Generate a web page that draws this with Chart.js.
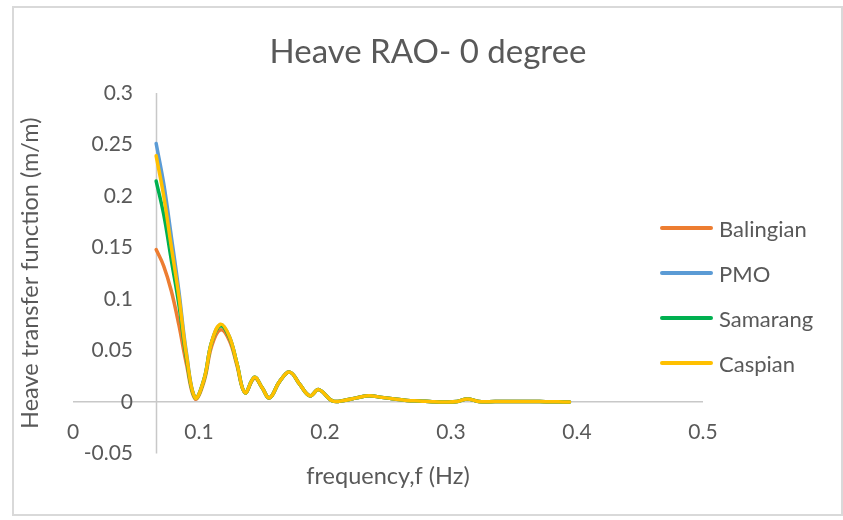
<!DOCTYPE html>
<html>
<head>
<meta charset="utf-8">
<script src="https://cdn.jsdelivr.net/npm/chart.js@4.4.1/dist/chart.umd.min.js"></script>
<style>
    html, body { margin: 0; padding: 0; background: #fff; }
    #wrap { position: relative; width: 843px; height: 520px; }
    #frame {
        position: absolute; left: 12px; top: 6px; width: 827px; height: 506px;
        border: 2px solid #d9d9d9; pointer-events: none;
    }
    #legend {
        position: absolute; left: 660px; top: 205.5px;
        font-family: Lato, "Noto Sans", sans-serif; font-size: 22px; color: #595959;
    }
    .item { height: 45px; display: flex; align-items: center; }
    .swatch { width: 53px; height: 3.5px; border-radius: 2px; margin-right: 6px; }
</style>
</head>
<body>
<div id="wrap">
    <canvas id="chart" width="843" height="520"></canvas>
    <div id="legend"></div>
    <div id="frame"></div>
</div>
<script>
// Heave RAO at 0 degree heading
const frequency = [0.066, 0.072, 0.078, 0.084, 0.090, 0.097, 0.104, 0.110, 0.117, 0.124,
    0.130, 0.1365, 0.144, 0.150, 0.156, 0.164, 0.172, 0.180, 0.188, 0.195,
    0.206, 0.215, 0.225, 0.235, 0.245, 0.255, 0.265, 0.275, 0.285, 0.295,
    0.305, 0.313, 0.322, 0.335, 0.345, 0.355, 0.365, 0.375, 0.385, 0.394];

const balingian = [0.148, 0.132, 0.108, 0.075, 0.037, 0.003, 0.020, 0.054, 0.070, 0.060,
    0.036, 0.009, 0.023, 0.014, 0.004, 0.020, 0.029, 0.017, 0.006, 0.012,
    0.001, 0.0015, 0.004, 0.006, 0.0045, 0.003, 0.0015, 0.001, 0.0003, 0.0,
    0.0005, 0.003, 0.0005, 0.0005, 0.0005, 0.0005, 0.0005, 0.0003, 0.0002, 0.0];

const pmo = [0.251, 0.212, 0.161, 0.108, 0.048, 0.004, 0.022, 0.058, 0.075, 0.064,
    0.038, 0.009, 0.024, 0.014, 0.004, 0.020, 0.029, 0.017, 0.006, 0.012,
    0.001, 0.0015, 0.004, 0.006, 0.0045, 0.003, 0.0015, 0.001, 0.0003, 0.0,
    0.0005, 0.003, 0.0005, 0.0005, 0.0005, 0.0005, 0.0005, 0.0003, 0.0002, 0.0];

const samarang = [0.2145, 0.182, 0.138, 0.095, 0.043, 0.004, 0.022, 0.058, 0.074, 0.063,
    0.038, 0.009, 0.024, 0.014, 0.004, 0.020, 0.029, 0.017, 0.006, 0.012,
    0.001, 0.0015, 0.004, 0.006, 0.0045, 0.003, 0.0015, 0.001, 0.0003, 0.0,
    0.0005, 0.003, 0.0005, 0.0005, 0.0005, 0.0005, 0.0005, 0.0003, 0.0002, 0.0];

const caspian = [0.239, 0.200, 0.151, 0.103, 0.046, 0.004, 0.022, 0.058, 0.0755, 0.064,
    0.038, 0.009, 0.024, 0.014, 0.004, 0.020, 0.029, 0.017, 0.006, 0.012,
    0.001, 0.0015, 0.004, 0.006, 0.0045, 0.003, 0.0015, 0.001, 0.0003, 0.0,
    0.0005, 0.003, 0.0005, 0.0005, 0.0005, 0.0005, 0.0005, 0.0003, 0.0002, 0.0];

const seriesNames = ['Balingian', 'PMO', 'Samarang', 'Caspian'];
const seriesValues = [balingian, pmo, samarang, caspian];
const seriesColors = ['#ED7D31', '#5B9BD5', '#00B050', '#FFC000'];

const xTickValues = [0, 0.1, 0.2, 0.3, 0.4, 0.5];
const xTickLabels = ['0', '0.1', '0.2', '0.3', '0.4', '0.5'];
const yTickValues = [-0.05, 0, 0.05, 0.1, 0.15, 0.2, 0.25, 0.3];
const yTickLabels = ['-0.05', '0', '0.05', '0.1', '0.15', '0.2', '0.25', '0.3'];

const FONT = 'Lato, "Noto Sans", sans-serif';
const TEXT = '#595959';
const AXIS = '#c8c8c8';
const TICK_SIZE = 21;

// y labels are mirrored into the plot (Excel puts them well left of the axis line),
// so work out the padding that puts their right edge 60px into the plot area
const measure = document.createElement('canvas').getContext('2d');
measure.font = TICK_SIZE + 'px ' + FONT;
const widestY = Math.max(...yTickLabels.map(t => measure.measureText(t).width));
const yLabelPadding = 60 - widestY;

// vertical axis line sits at the first frequency, like the Excel original
const axisCross = {
    id: 'axisCross',
    beforeDatasetsDraw(chart) {
        const { ctx, chartArea, scales } = chart;
        const x = Math.round(scales.x.getPixelForValue(frequency[0])) + 0.5;
        ctx.save();
        ctx.strokeStyle = AXIS;
        ctx.lineWidth = 1.5;
        ctx.beginPath();
        ctx.moveTo(x, chartArea.top);
        ctx.lineTo(x, chartArea.bottom);
        ctx.stroke();
        ctx.restore();
    }
};

const datasets = seriesNames.map((name, i) => ({
    label: name,
    data: frequency.map((f, j) => ({ x: f, y: seriesValues[i][j] })),
    borderColor: seriesColors[i],
    backgroundColor: seriesColors[i],
    order: seriesNames.length - i
}));

new Chart(document.getElementById('chart'), {
    type: 'line',
    data: { datasets },
    options: {
        responsive: false,
        animation: false,
        layout: { padding: { left: 13, top: 0, right: 0, bottom: 0 } },
        elements: {
            point: { radius: 0 },
            line: { borderWidth: 3.5, tension: 0.4, borderCapStyle: 'round' }
        },
        plugins: {
            legend: { display: false },
            tooltip: { enabled: false },
            title: {
                display: true,
                text: 'Heave RAO- 0 degree',
                color: TEXT,
                font: { family: FONT, size: 33, weight: 'normal' },
                padding: { top: 32.7, bottom: 20.7 }
            }
        },
        scales: {
            x: {
                type: 'linear',
                min: 0,
                max: 0.5,
                afterBuildTicks: s => { s.ticks = xTickValues.map(v => ({ value: v })); },
                afterFit: s => { s.height = 66.5; },
                grid: { display: false, drawTicks: false },
                border: { display: false },
                ticks: {
                    mirror: true,
                    padding: 8.9,
                    color: TEXT,
                    font: { family: FONT, size: TICK_SIZE },
                    maxRotation: 0,
                    autoSkip: false,
                    callback: (v, i) => xTickLabels[i]
                },
                title: {
                    display: true,
                    text: 'frequency,f (Hz)',
                    color: TEXT,
                    font: { family: FONT, size: 23.5 },
                    padding: { top: 0, bottom: 29.9 }
                }
            },
            y: {
                type: 'linear',
                min: -0.05,
                max: 0.3,
                afterBuildTicks: s => { s.ticks = yTickValues.map(v => ({ value: v })); },
                afterFit: s => { s.width = 60; },
                grid: {
                    drawTicks: false,
                    lineWidth: 1.5,
                    color: c => (c.tick && Math.abs(c.tick.value) < 1e-9) ? AXIS : 'rgba(0,0,0,0)'
                },
                border: { display: false },
                ticks: {
                    mirror: true,
                    crossAlign: 'far',
                    padding: yLabelPadding,
                    color: TEXT,
                    font: { family: FONT, size: TICK_SIZE },
                    callback: (v, i) => yTickLabels[i]
                },
                title: {
                    display: true,
                    text: 'Heave transfer function (m/m)',
                    color: TEXT,
                    font: { family: FONT, size: 23.5 },
                    padding: { top: 3, bottom: 0 }
                }
            },
            // empty right-hand axis that keeps room for the legend
            spacer: {
                type: 'linear',
                position: 'right',
                display: true,
                afterFit: s => { s.width = 140; },
                grid: { display: false, drawTicks: false },
                border: { display: false },
                ticks: { display: false }
            }
        }
    },
    plugins: [axisCross]
});

// legend drawn as html so it can overlap the plot area like the original
const legend = document.getElementById('legend');
legend.innerHTML = seriesNames.map((name, i) => `
    <div class="item">
        <span class="swatch" style="background:${seriesColors[i]}"></span>
        <span>${name}</span>
    </div>
`).join('');
</script>
</body>
</html>
